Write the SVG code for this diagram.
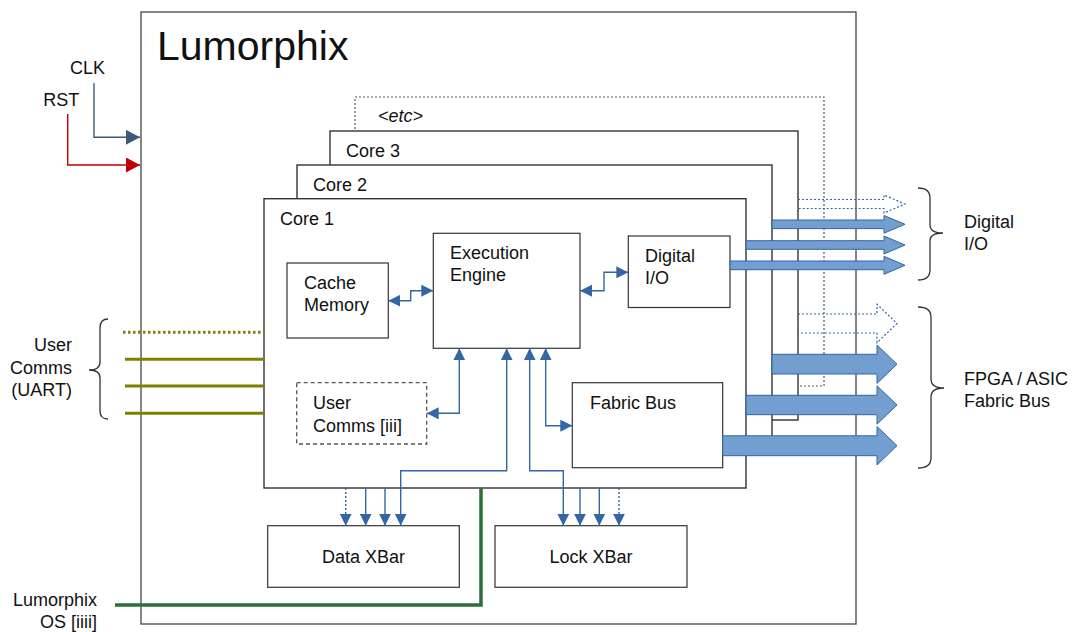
<svg xmlns="http://www.w3.org/2000/svg" width="1075" height="632" viewBox="0 0 1075 632">
<style>
text{font-family:"Liberation Sans",Arial,sans-serif;font-size:18px;fill:#111}
.box{fill:#fff;stroke:#333;stroke-width:1.2}
.core{fill:#fff;stroke:#333;stroke-width:1.4}
.ln{fill:none;stroke:#3465a4;stroke-width:1.4}
.dot{stroke-dasharray:2 2}
.bus{fill:#729fcf;stroke:#3465a4;stroke-width:1}
.busd{fill:none;stroke:#3465a4;stroke-width:1.2;stroke-dasharray:2 2}
.brace{fill:none;stroke:#333;stroke-width:1.3}
.uart{fill:none;stroke:#808000;stroke-width:3}
</style>
<defs>
<marker id="ah" viewBox="0 0 12 12" refX="12" refY="6" markerWidth="12" markerHeight="12" markerUnits="userSpaceOnUse" orient="auto-start-reverse"><path d="M0,0 L12,6 L0,12 Z" fill="#3465a4"/></marker>
<marker id="ahclk" viewBox="0 0 14 15" refX="14" refY="7.5" markerWidth="14" markerHeight="15" markerUnits="userSpaceOnUse" orient="auto"><path d="M0,0 L14,7.5 L0,15 Z" fill="#3c5a78"/></marker>
<marker id="ahrst" viewBox="0 0 14 15" refX="14" refY="7.5" markerWidth="14" markerHeight="15" markerUnits="userSpaceOnUse" orient="auto"><path d="M0,0 L14,7.5 L0,15 Z" fill="#c00000"/></marker>
</defs>
<rect width="1075" height="632" fill="#fff"/>

<g id="lumorphix">
<rect x="141" y="12" width="715" height="612" fill="#fff" stroke="#444" stroke-width="1.3"/>
<text x="157" y="60" style="font-size:41px">Lumorphix</text>
</g>

<g id="core-etc">
<rect x="355" y="97" width="469" height="289" fill="#fff" stroke="#555" stroke-width="1.2" stroke-dasharray="2 2"/>
<text x="378" y="122" font-style="italic">&lt;etc&gt;</text>
</g>
<g id="core3">
<rect class="core" x="330" y="131" width="468" height="289"/>
<text x="346" y="157">Core 3</text>
</g>
<g id="core2">
<rect class="core" x="297" y="165" width="475" height="289"/>
<text x="313" y="191">Core 2</text>
</g>
<g id="core1">
<rect class="core" x="264" y="198.7" width="482" height="289.3"/>
<text x="280" y="225">Core 1</text>
</g>

<g id="cache-memory">
<rect class="box" x="287" y="263" width="101.3" height="75"/>
<text x="304" y="289">Cache</text>
<text x="304" y="311">Memory</text>
</g>
<g id="execution-engine">
<rect class="box" x="433.3" y="233.3" width="146.7" height="115"/>
<text x="450" y="259.3">Execution</text>
<text x="450" y="281">Engine</text>
</g>
<g id="digital-io">
<rect class="box" x="628.3" y="236" width="101.7" height="71.5"/>
<text x="645" y="262">Digital</text>
<text x="645" y="284">I/O</text>
</g>
<g id="user-comms">
<rect x="296.7" y="382.7" width="130" height="61.3" fill="#fff" stroke="#555" stroke-width="1.3" stroke-dasharray="4 3"/>
<text x="313" y="409.3">User</text>
<text x="313" y="431.7">Comms [iii]</text>
</g>
<g id="fabric-bus">
<rect class="box" x="572.3" y="382.7" width="150.4" height="85"/>
<text x="590" y="409">Fabric Bus</text>
</g>
<g id="data-xbar">
<rect class="box" x="267.7" y="525.7" width="191.6" height="61.6"/>
<text x="363.5" y="562.7" text-anchor="middle">Data XBar</text>
</g>
<g id="lock-xbar">
<rect class="box" x="495" y="525.7" width="192" height="61.6"/>
<text x="591" y="562.7" text-anchor="middle">Lock XBar</text>
</g>

<g id="labels">
<text x="70" y="74.3">CLK</text>
<text x="43.3" y="105.7">RST</text>
<text x="72" y="351" text-anchor="end">User</text>
<text x="72" y="373.5" text-anchor="end">Comms</text>
<text x="72" y="395.5" text-anchor="end">(UART)</text>
<text x="97" y="606" text-anchor="end">Lumorphix</text>
<text x="97" y="628" text-anchor="end">OS [iiii]</text>
<text x="964" y="228">Digital</text>
<text x="964" y="250">I/O</text>
<text x="964" y="385">FPGA / ASIC</text>
<text x="964" y="407">Fabric Bus</text>
<path class="brace" d="M918,188 Q930,188 930,198 V225 Q930,233 943,233 Q930,233 930,241 V270 Q930,280 918,280"/>
<path class="brace" d="M918,307 Q931,307 931,317 V379 Q931,388 944,388 Q931,388 931,397 V458 Q931,468 918,468"/>
<path class="brace" d="M108,319 Q100,319 100,328 V362 Q100,370 89,370 Q100,370 100,378 V411 Q100,419 108,419"/>
</g>

<g id="connectors">
<path d="M94,83.3 V137.3 H140" fill="none" stroke="#3c5a78" stroke-width="1.4" marker-end="url(#ahclk)"/>
<path d="M67.7,114 V165 H140" fill="none" stroke="#c00000" stroke-width="1.4" marker-end="url(#ahrst)"/>
<path class="uart" d="M123,332.3 H264" stroke-dasharray="2.5 2.5"/>
<path class="uart" d="M125,359.3 H264"/>
<path class="uart" d="M125,386 H264"/>
<path class="uart" d="M125,413.3 H264"/>
<path d="M115,605 H481 V488" fill="none" stroke="#2d6f39" stroke-width="3.5"/>

<path class="ln" d="M388.3,300.7 H410.7 V290.7 H433.3" marker-start="url(#ah)" marker-end="url(#ah)"/>
<path class="ln" d="M580,290.7 H604 V272.3 H628.3" marker-start="url(#ah)" marker-end="url(#ah)"/>
<path class="ln" d="M459.3,348.3 V413.3 H426.7" marker-start="url(#ah)" marker-end="url(#ah)"/>
<path class="ln" d="M506.7,348.3 V470.7 H400.7 V525.7" marker-start="url(#ah)" marker-end="url(#ah)"/>
<path class="ln" d="M529.7,348.3 V470.7 H563.3 V525.7" marker-start="url(#ah)" marker-end="url(#ah)"/>
<path class="ln" d="M545.7,348.3 V425.7 H572.3" marker-start="url(#ah)" marker-end="url(#ah)"/>
<path class="ln dot" d="M345.7,488 V525.7" marker-end="url(#ah)"/>
<path class="ln" d="M365.7,488 V525.7" marker-end="url(#ah)"/>
<path class="ln" d="M385,488 V525.7" marker-end="url(#ah)"/>
<path class="ln" d="M580,488 V525.7" marker-end="url(#ah)"/>
<path class="ln" d="M599.3,488 V525.7" marker-end="url(#ah)"/>
<path class="ln dot" d="M619,488 V525.7" marker-end="url(#ah)"/>

<path class="busd" d="M798,199.5 H884 V195 L905,204 L884,213 V208.5 H798"/>
<path class="bus" d="M772,220 H884 V215.5 L905,224.3 L884,233.2 V228.6 H772 Z"/>
<path class="bus" d="M746,240.7 H884 V236 L905,245 L884,254 V249.3 H746 Z"/>
<path class="bus" d="M730,261 H884 V256.3 L905,265.3 L884,274.3 V269.7 H730 Z"/>
<path class="busd" d="M798,314 H877 V304.3 L897,323.5 L877,342.7 V333 H798"/>
<path class="bus" d="M772,354.3 H877 V345 L897,364.2 L877,383.4 V374 H772 Z"/>
<path class="bus" d="M746,395.3 H877 V385.8 L897,405 L877,424.2 V414.7 H746 Z"/>
<path class="bus" d="M722.7,435.8 H877 V426.5 L897,445.7 L877,465 V455.7 H722.7 Z"/>
</g>
</svg>
